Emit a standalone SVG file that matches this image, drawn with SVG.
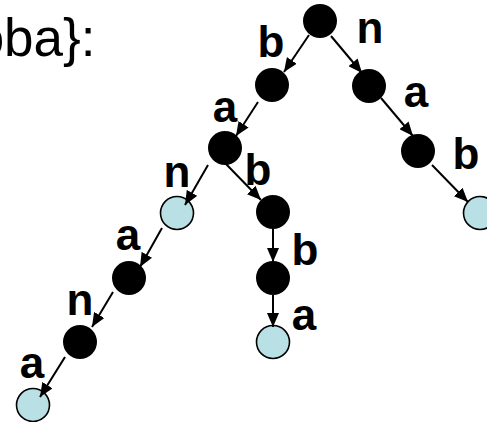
<svg xmlns="http://www.w3.org/2000/svg" width="487" height="422" viewBox="0 0 487 422">
<style>
.n{fill:#000}
.leaf{fill:#b9e1e5;stroke:#000;stroke-width:1.6}
.lbl{font-family:"Liberation Sans",Arial,sans-serif;font-weight:bold;font-size:44px;fill:#000;text-anchor:middle}
.title{font-family:"Liberation Sans",Arial,sans-serif;font-size:53px;fill:#000;text-anchor:end}
.e{stroke:#000;stroke-width:2;fill:none;marker-end:url(#ah)}
</style>
<defs>
<marker id="ah" viewBox="0 0 14 12" refX="14" refY="6" markerWidth="14" markerHeight="12" markerUnits="userSpaceOnUse" orient="auto">
<path d="M0,0 L14,6 L0,12 z" fill="#000"/>
</marker>
</defs>
<rect width="487" height="422" fill="#fff"/>
<text class="title" x="95.5" y="56">oba}:</text>
<g id="nodes">
<g id="root"><circle class="n" cx="320" cy="21" r="17"/></g>
<g id="b1"><circle class="n" cx="272" cy="85" r="17"/><text class="lbl" x="271" y="57">b</text></g>
<g id="n1"><circle class="n" cx="369" cy="86" r="17"/><text class="lbl" x="370" y="43">n</text></g>
<g id="na"><circle class="n" cx="418" cy="151" r="17"/><text class="lbl" x="416" y="107">a</text></g>
<g id="nab"><circle class="leaf" cx="480" cy="213" r="16.5"/><text class="lbl" x="466" y="169">b</text></g>
<g id="ba"><circle class="n" cx="225" cy="148" r="17"/><text class="lbl" x="225" y="122">a</text></g>
<g id="ban"><circle class="leaf" cx="177" cy="213" r="16.5"/><text class="lbl" x="177" y="187">n</text></g>
<g id="bab"><circle class="n" cx="273" cy="212" r="17"/><text class="lbl" x="258" y="185">b</text></g>
<g id="babb"><circle class="n" cx="273" cy="278" r="17"/><text class="lbl" x="305" y="265">b</text></g>
<g id="babba"><circle class="leaf" cx="273" cy="342" r="16.5"/><text class="lbl" x="304" y="330">a</text></g>
<g id="bana"><circle class="n" cx="129" cy="278" r="17"/><text class="lbl" x="128" y="250">a</text></g>
<g id="banan"><circle class="n" cx="80" cy="342" r="17"/><text class="lbl" x="80" y="315">n</text></g>
<g id="banana"><circle class="leaf" cx="33" cy="405" r="16.5"/><text class="lbl" x="32" y="378">a</text></g>
</g>
<g id="connectors">
<line class="e" x1="309" y1="35" x2="284" y2="72"/>
<line class="e" x1="331" y1="36" x2="362" y2="73"/>
<line class="e" x1="381" y1="98" x2="413" y2="136"/>
<line class="e" x1="432" y1="165" x2="468" y2="202"/>
<line class="e" x1="258" y1="102" x2="236" y2="136"/>
<line class="e" x1="208" y1="165" x2="185" y2="205"/>
<line class="e" x1="226" y1="164" x2="261" y2="200"/>
<line class="e" x1="273" y1="229" x2="273" y2="262"/>
<line class="e" x1="273" y1="295" x2="273" y2="327"/>
<line class="e" x1="162" y1="228" x2="140" y2="267"/>
<line class="e" x1="113" y1="292" x2="92" y2="327"/>
<line class="e" x1="65" y1="357" x2="40" y2="397"/>
</g>
</svg>
